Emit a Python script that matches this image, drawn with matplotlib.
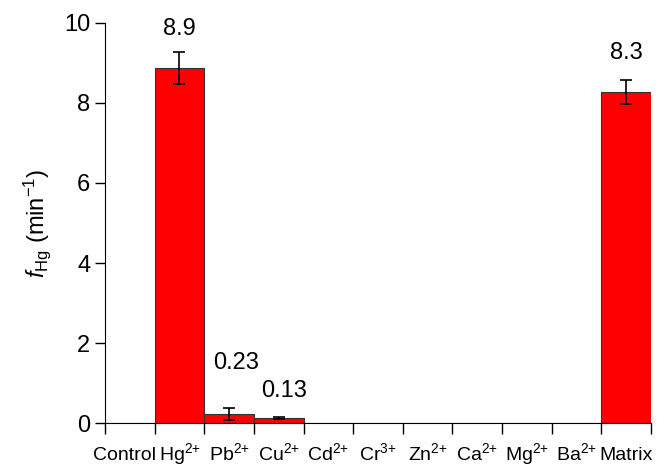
import matplotlib
matplotlib.use("Agg")
import matplotlib.pyplot as plt
import matplotlib.transforms as mtransforms
import numpy as np

plt.rcParams['font.family'] = ['Liberation Sans', 'DejaVu Sans']
plt.rcParams['mathtext.fontset'] = 'custom'
plt.rcParams['mathtext.rm'] = 'Liberation Sans'
plt.rcParams['mathtext.it'] = 'Liberation Sans:italic'

categories = ['Control', 'Hg$^{2{+}}$', 'Pb$^{2{+}}$', 'Cu$^{2{+}}$', 'Cd$^{2{+}}$', 'Cr$^{3{+}}$',
              'Zn$^{2{+}}$', 'Ca$^{2{+}}$', 'Mg$^{2{+}}$', 'Ba$^{2{+}}$', 'Matrix']
values = [0, 8.86, 0.23, 0.13, 0, 0, 0, 0, 0, 0, 8.28]
errors = [0, 0.40, 0.15, 0.02, 0, 0, 0, 0, 0, 0, 0.30]
value_labels = {1: '8.9', 2: '0.23', 3: '0.13', 10: '8.3'}
# offsets of the number labels (x in categories, y in data units)
label_offsets = {1: (0.0, 0.3), 2: (0.15, 0.85), 3: (0.1, 0.38), 10: (0.0, 0.38)}

fig = plt.figure(figsize=(6.69, 4.66), dpi=100)
ax = fig.add_axes([0.157, 0.092, 0.816, 0.859])

x = np.arange(len(categories))
ax.bar(x, values, width=1.0, color='#ff0000', edgecolor='#333333', linewidth=0.8,
       yerr=[e if e > 0 else np.nan for e in errors], capsize=4,
       error_kw=dict(ecolor='black', elinewidth=1.2, capthick=1.2))

for i, txt in value_labels.items():
    dx, dy = label_offsets[i]
    ax.text(i + dx, values[i] + errors[i] + dy, txt, ha='center', va='bottom', fontsize=17)

ax.set_xlim(-0.5, len(categories) - 0.5)
ax.set_ylim(0, 10)
ax.set_yticks([0, 2, 4, 6, 8, 10])
ax.tick_params(axis='y', labelsize=17, length=7, width=1)

# ticks on the category edges, labels in the middle
ax.set_xticks(np.arange(len(categories) + 1) - 0.5)
ax.set_xticklabels([])
ax.set_xticks(x, minor=True)
ax.set_xticklabels(categories, minor=True, fontsize=14)
ax.tick_params(axis='x', which='major', length=8, width=1)
ax.tick_params(axis='x', which='minor', length=0, pad=26.5)
xlabels = ax.get_xticklabels(minor=True)
for lab in xlabels:
    lab.set_verticalalignment('baseline')
# "Control" sits a little left of its slot in the original
xlabels[0].set_transform(xlabels[0].get_transform() +
                         mtransforms.ScaledTranslation(-5 / 100, 0, fig.dpi_scale_trans))

ax.spines['top'].set_visible(False)
ax.spines['right'].set_visible(False)
ax.set_ylabel('$\\it{f}$$_{\\mathrm{Hg}}$ (min$^{-1}$)', fontsize=17, labelpad=8)

fig.savefig('out.png', dpi=100)
